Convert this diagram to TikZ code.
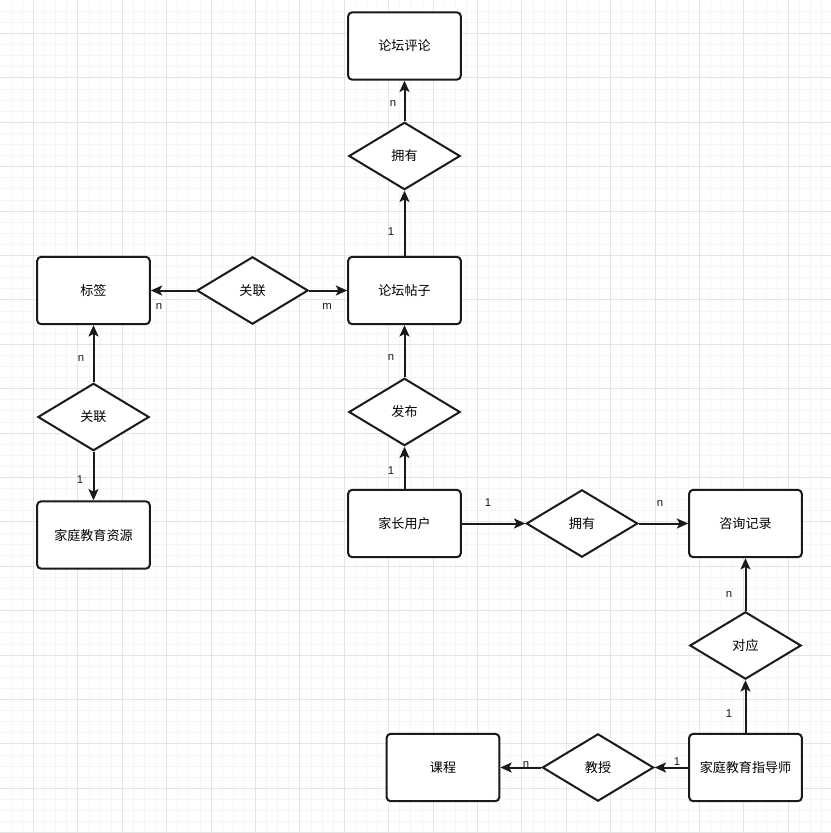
\documentclass[tikz,border=0pt]{standalone}
\usepackage{fontspec}
\setmainfont{Liberation Sans}
\newfontfamily\cjk{Noto Sans CJK SC}
\usetikzlibrary{shapes.geometric,arrows.meta}
\definecolor{gridmajor}{HTML}{E4E4E4}
\definecolor{gridminor}{HTML}{F5F5F5}
\definecolor{ink}{HTML}{1A1A1A}
\tikzset{
  entity/.style={draw=ink, line width=1.5pt, rounded corners=3pt, fill=white,
    minimum width=84.5pt, minimum height=50.5pt, inner sep=0pt,
    font=\cjk\fontsize{9.8pt}{11pt}\selectfont},
  relation/.style={draw=ink, line width=1.5pt, diamond, fill=white,
    minimum width=83.5pt, minimum height=50.5pt, inner sep=0pt,
    font=\cjk\fontsize{9.8pt}{11pt}\selectfont},
  conn/.style={draw=ink, line width=1.5pt, -{Stealth[length=8.5pt,width=7.5pt,inset=2pt]}},
  card/.style={font=\fontsize{8.5pt}{10pt}\selectfont, text=ink, inner sep=0pt}
}
\begin{document}
\begin{tikzpicture}[x=0.75pt,y=-0.75pt]
\useasboundingbox (0,0) rectangle (831,833);
\fill[white] (0,0) rectangle (831,833);
% grid
\foreach \i in {-2,...,72} {
  \pgfmathsetmacro{\p}{33.5+11.1*\i}
  \draw[gridminor, line width=0.75pt] (\p,0) -- (\p,833);
  \draw[gridminor, line width=0.75pt] (0,\p) -- (831,\p);
}
\foreach \i in {-1,...,18} {
  \pgfmathsetmacro{\p}{33.5+44.4*\i}
  \draw[gridmajor, line width=0.75pt] (\p,0) -- (\p,833);
  \draw[gridmajor, line width=0.75pt] (0,\p) -- (831,\p);
}
% entities
\node[entity] (comment) at (404.5,46) {论坛评论};
\node[entity] (post) at (404.5,290.5) {论坛帖子};
\node[entity] (tag) at (93.5,290.5) {标签};
\node[entity] (res) at (93.5,535) {家庭教育资源};
\node[entity] (user) at (404.5,523.5) {家长用户};
\node[entity] (consult) at (745.5,523.5) {咨询记录};
\node[entity] (tutor) at (745.5,767.5) {家庭教育指导师};
\node[entity] (course) at (443,767.5) {课程};
% relations
\node[relation] (own1) at (404.5,156) {拥有};
\node[relation] (rel1) at (252.5,290.5) {关联};
\node[relation] (rel2) at (93.5,417) {关联};
\node[relation] (pub) at (404.5,412) {发布};
\node[relation] (own2) at (582,523.5) {拥有};
\node[relation] (corr) at (745.5,645.5) {对应};
\node[relation] (teach) at (598,767.5) {教授};
% connectors
\draw[conn] (own1.north) -- (comment.south);
\draw[conn] (post.north) -- (own1.south);
\draw[conn] (rel1.west) -- (tag.east);
\draw[conn] (rel1.east) -- (post.west);
\draw[conn] (rel2.north) -- (tag.south);
\draw[conn] (rel2.south) -- (res.north);
\draw[conn] (pub.north) -- (post.south);
\draw[conn] (user.north) -- (pub.south);
\draw[conn] (user.east) -- (own2.west);
\draw[conn] (own2.east) -- (consult.west);
\draw[conn] (corr.north) -- (consult.south);
\draw[conn] (tutor.north) -- (corr.south);
\draw[conn] (tutor.west) -- (teach.east);
\draw[conn] (teach.west) -- (course.east);
% cardinalities
\node[card] (c1) at (393,103) {n};
\node[card] (c2) at (391,232) {1};
\node[card] (c3) at (159,306) {n};
\node[card] (c4) at (327,306) {m};
\node[card] (c5) at (81,358) {n};
\node[card] (c6) at (80,480) {1};
\node[card] (c7) at (391,357) {n};
\node[card] (c8) at (391,471) {1};
\node[card] (c9) at (488,503) {1};
\node[card] (c10) at (660,503) {n};
\node[card] (c11) at (729,594) {n};
\node[card] (c12) at (729,714) {1};
\node[card] (c13) at (526,764) {n};
\node[card] (c14) at (677,762) {1};
\end{tikzpicture}
\end{document}
